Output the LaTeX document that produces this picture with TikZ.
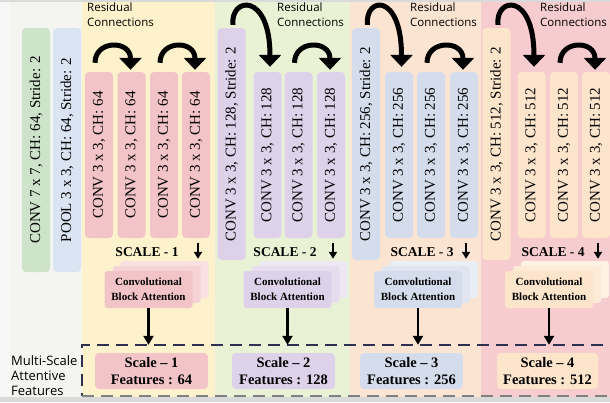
\documentclass[tikz,border=0pt]{standalone}
\usepackage{fontspec}
\setmainfont{Liberation Serif}
\newfontfamily\sansfont{Open Sans}
\usetikzlibrary{arrows.meta, calc}
\definecolor{framegray}{HTML}{DADADA}
\definecolor{paneltone}{HTML}{F4F4F0}
\definecolor{secone}{HTML}{FDF2CC}
\definecolor{sectwo}{HTML}{EAF2D6}
\definecolor{secthree}{HTML}{FCE4D2}
\definecolor{secfour}{HTML}{F6CCCE}
\definecolor{greenbox}{HTML}{CEE4CA}
\definecolor{poolbox}{HTML}{DBE4F3}
\definecolor{pinkbox}{HTML}{F3C4C7}
\definecolor{purplebox}{HTML}{DDD2EA}
\definecolor{bluebox}{HTML}{D5DDEC}
\definecolor{peachbox}{HTML}{FCE5CB}
\definecolor{navyline}{HTML}{2E3052}
\newcommand{\shortres}[2]
{
	\draw[resarrow] ($ (#1.north)+(-4,-9) $) .. controls +(0,-23) and +(0,-30) .. ($ (#2.north)+(-1,-2) $)
}
\newcommand{\longres}[2]
{
	\draw[resarrow] ($ (#1.north)+(1.5,-3) $) .. controls +(-3,-28) and +(0,-75) .. ($ (#2.north)+(2.5,-5) $)
}
\newcommand{\cbastack}[4]
{
	\node[cbabox, fill=#4!50!white] at (#2+16, #3-10) (#1b){};
	\node[cbabox, fill=#4!75!white] at (#2+8, #3-5) (#1m){};
	\node[cbabox, fill=#4] at (#2, #3) (#1){Convolutional\\Block Attention}
}
\newcommand{\vtext}[1]{\rotatebox{90}{#1}}

\begin{document}
\begin{tikzpicture}[x=1pt, y=-1pt,
	convbox/.style={rounded corners=4pt, minimum width=28pt, inner sep=0pt,
		font=\fontsize{15}{18}\selectfont},
	cbabox/.style={rounded corners=3pt, minimum width=88pt, minimum height=37pt,
		inner sep=0pt, align=center, font=\bfseries\fontsize{11}{15}\selectfont},
	featbox/.style={rounded corners=4pt, minimum height=36pt, inner sep=0pt,
		align=center, font=\bfseries\fontsize{14.5}{17}\selectfont},
	scalelabel/.style={inner sep=0pt, font=\bfseries\fontsize{13.5}{16}\selectfont},
	reslabel/.style={inner sep=0pt, align=left, anchor=north west,
		font=\sansfont\fontsize{11.5}{14.5}\selectfont},
	resarrow/.style={line width=5pt, -{Triangle[width=22pt, length=12pt]}},
	downarrow/.style={line width=2pt, -{Triangle[width=8pt, length=7pt]}},
	cbaarrow/.style={line width=2.5pt, -{Triangle[width=10pt, length=9pt]}},
	msframe/.style={line width=2pt, draw=navyline, dash pattern=on 12pt off 7pt}]

	\useasboundingbox (0,0) rectangle (610,402);
	\fill[framegray] (0,0) rectangle (610,402);
	\fill[white!97!black] (0,2) rectangle (610,397);
	\fill[paneltone] (10,2) rectangle (82,397);
	\fill[secone] (82,2) rectangle (215,397);
	\fill[sectwo] (215,2) rectangle (350,397);
	\fill[secthree] (350,2) rectangle (481,397);
	\fill[secfour] (481,2) rectangle (610,397);

	\node[convbox, fill=greenbox, minimum height=244pt] at (36, 150) (conv7){\vtext{CONV 7 x 7, CH: 64, Stride: 2}};
	\node[convbox, fill=poolbox, minimum height=244pt] at (67, 150) (pool){\vtext{POOL 3 x 3, CH: 64, Stride: 2}};

	\node[convbox, fill=pinkbox, minimum height=166pt] at (99, 155) (s1c1){\vtext{CONV 3 x 3, CH: 64}};
	\node[convbox, fill=pinkbox, minimum height=166pt] at (131.5, 155) (s1c2){\vtext{CONV 3 x 3, CH: 64}};
	\node[convbox, fill=pinkbox, minimum height=166pt] at (164, 155) (s1c3){\vtext{CONV 3 x 3, CH: 64}};
	\node[convbox, fill=pinkbox, minimum height=166pt] at (196, 155) (s1c4){\vtext{CONV 3 x 3, CH: 64}};
	\shortres{s1c1}{s1c2};
	\shortres{s1c3}{s1c4};
	\node[reslabel] at (87, 3) (res1){Residual\\Connections};
	\node[scalelabel] at (147, 252) (sc1){SCALE - 1};
	\cbastack{cba1}{148.5}{289.5}{pinkbox};
	\node[featbox, fill=pinkbox, minimum width=113pt] at (151.5, 371) (feat1){Scale -- 1\\Features : 64};

	\node[convbox, fill=purplebox, minimum height=232pt] at (231.5, 144) (s2st){\vtext{CONV 3 x 3, CH: 128, Stride: 2}};
	\node[convbox, fill=purplebox, minimum height=166pt] at (267.5, 155) (s2c1){\vtext{CONV 3 x 3, CH: 128}};
	\node[convbox, fill=purplebox, minimum height=166pt] at (298.5, 155) (s2c2){\vtext{CONV 3 x 3, CH: 128}};
	\node[convbox, fill=purplebox, minimum height=166pt] at (331, 155) (s2c3){\vtext{CONV 3 x 3, CH: 128}};
	\longres{s2st}{s2c1};
	\shortres{s2c2}{s2c3};
	\node[reslabel] at (277, 3) (res2){Residual\\Connections};
	\node[scalelabel] at (285, 252) (sc2){SCALE - 2};
	\cbastack{cba2}{287.5}{289.5}{purplebox};
	\node[featbox, fill=purplebox, minimum width=103pt] at (283.5, 371) (feat2){Scale -- 2\\Features : 128};

	\node[convbox, fill=bluebox, minimum height=232pt] at (366, 144) (s3st){\vtext{CONV 3 x 3, CH: 256, Stride: 2}};
	\node[convbox, fill=bluebox, minimum height=166pt] at (399, 155) (s3c1){\vtext{CONV 3 x 3, CH: 256}};
	\node[convbox, fill=bluebox, minimum height=166pt] at (431, 155) (s3c2){\vtext{CONV 3 x 3, CH: 256}};
	\node[convbox, fill=bluebox, minimum height=166pt] at (464, 155) (s3c3){\vtext{CONV 3 x 3, CH: 256}};
	\longres{s3st}{s3c1};
	\shortres{s3c2}{s3c3};
	\node[reslabel] at (410, 3) (res3){Residual\\Connections};
	\node[scalelabel] at (422, 252) (sc3){SCALE - 3};
	\cbastack{cba3}{418}{289.5}{bluebox};
	\node[featbox, fill=bluebox, minimum width=103pt] at (411.5, 371) (feat3){Scale -- 3\\Features : 256};

	\node[convbox, fill=peachbox, minimum height=232pt] at (496.5, 144) (s4st){\vtext{CONV 3 x 3, CH: 512, Stride: 2}};
	\node[convbox, fill=peachbox, minimum height=166pt] at (531.5, 155) (s4c1){\vtext{CONV 3 x 3, CH: 512}};
	\node[convbox, fill=peachbox, minimum height=166pt] at (564, 155) (s4c2){\vtext{CONV 3 x 3, CH: 512}};
	\node[convbox, fill=peachbox, minimum height=166pt] at (596, 155) (s4c3){\vtext{CONV 3 x 3, CH: 512}};
	\longres{s4st}{s4c1};
	\shortres{s4c2}{s4c3};
	\node[reslabel] at (540, 3) (res4){Residual\\Connections};
	\node[scalelabel] at (553, 252) (sc4){SCALE - 4};
	\cbastack{cba4}{549}{289.5}{peachbox};
	\node[featbox, fill=peachbox, minimum width=101pt] at (547.5, 371) (feat4){Scale -- 4\\Features : 512};

	\node[inner sep=0pt, minimum width=540pt, minimum height=51pt] at (352, 370.5) (ms){};
	\draw[msframe] (ms.north east) -- (ms.north west) -- (ms.south west);
	\draw[msframe, draw=gray] (ms.south west) -- (ms.south east);
	\node[inner sep=0pt, align=left, anchor=west, font=\sansfont\fontsize{13}{15}\selectfont] at (11, 376) (mslabel){Multi-Scale\\Attentive\\Features};

	\draw[downarrow] ($ (s1c4.south)+(2,5) $) -- ($ (s1c4.south |- cba1b.north)+(2,-2) $);
	\draw[downarrow] ($ (s2c3.south)+(2,5) $) -- ($ (s2c3.south |- cba2b.north)+(2,-2) $);
	\draw[downarrow] ($ (s3c3.south)+(2,5) $) -- ($ (s3c3.south |- cba3b.north)+(2,-2) $);
	\draw[downarrow] ($ (s4c3.south)+(2,5) $) -- ($ (s4c3.south |- cba4b.north)+(2,-2) $);
	\draw[cbaarrow] (cba1.south) -- (cba1.south |- ms.north);
	\draw[cbaarrow] (cba2.south) -- (cba2.south |- ms.north);
	\draw[cbaarrow] (cba3.south) -- (cba3.south |- ms.north);
	\draw[cbaarrow] (cba4.south) -- (cba4.south |- ms.north);
\end{tikzpicture}
\end{document}
